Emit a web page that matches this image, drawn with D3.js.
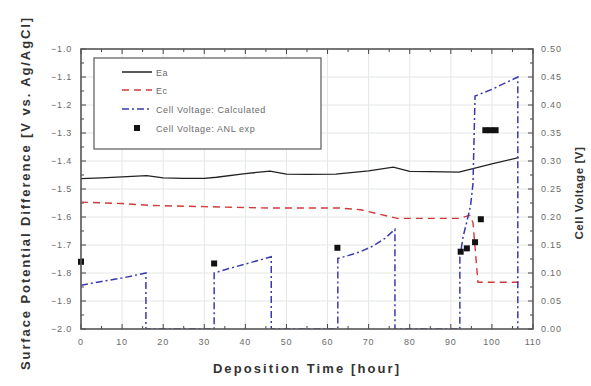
<!DOCTYPE html>
<html>
<head>
<meta charset="utf-8">
<script src="https://cdn.jsdelivr.net/npm/d3@7"></script>
<style>
  body { margin: 0; background: #fff; }
  svg { display: block; font-family: "Liberation Sans", Arial, sans-serif; }
</style>
</head>
<body>
<svg id="chart" width="591" height="386"></svg>
<script>
// Ea (black, left axis)
const eaHours = [0, 5, 10, 16, 20, 25, 30, 33, 40, 46, 50, 55, 62, 70, 76, 80, 85, 92, 100, 106.5];
const eaValues = [-1.463, -1.46, -1.457, -1.452, -1.46, -1.462, -1.462, -1.458, -1.445, -1.436, -1.447, -1.448, -1.447, -1.435, -1.422, -1.437, -1.438, -1.44, -1.41, -1.388];

// Ec (red dashed, left axis)
const ecHours = [0, 10, 17.5, 30, 46, 63, 68, 72, 77, 85, 92, 94.6, 95.4, 96.6, 106.5];
const ecValues = [-1.547, -1.552, -1.559, -1.563, -1.568, -1.568, -1.574, -1.588, -1.605, -1.605, -1.605, -1.594, -1.62, -1.833, -1.833];

// Cell voltage, calculated (blue dash-dot, right axis)
const calcHours = [0, 5, 10, 15.8, 15.8, 32.4, 32.4, 36, 40, 46.3, 46.3, 62.5, 62.5, 65, 68, 71, 74, 76.4, 76.4, 92.2, 92.2, 93, 94, 94.8, 95.4, 95.9, 100, 106.3, 106.3];
const calcValues = [0.078, 0.085, 0.091, 0.100, 0, 0, 0.100, 0.108, 0.116, 0.129, 0, 0, 0.126, 0.131, 0.138, 0.148, 0.162, 0.178, 0, 0, 0.128, 0.165, 0.195, 0.22, 0.26, 0.416, 0.428, 0.450, 0];

// Cell voltage, ANL experiment (squares, right axis)
const expHours = [0, 32.4, 62.4, 92.4, 93.9, 95.9, 97.3, 98.4, 99.6, 100.9];
const expValues = [0.120, 0.117, 0.145, 0.138, 0.144, 0.155, 0.196, 0.355, 0.355, 0.355];

const legendLabels = ["Ea", "Ec", "Cell Voltage: Calculated", "Cell Voltage: ANL exp"];

const svg = d3.select("#chart");
const plot = { left: 81, right: 533, top: 49, bottom: 329 };

const x = d3.scaleLinear().domain([0, 110]).range([plot.left, plot.right]);
const yL = d3.scaleLinear().domain([-2.0, -1.0]).range([plot.bottom, plot.top]);
const yR = d3.scaleLinear().domain([0, 0.5]).range([plot.bottom, plot.top]);

const tickColor = "#444";
const labelColor = "#6a6a6a";

// grid
const grid = svg.append("g").attr("stroke", "#e4e8e4").attr("stroke-width", 1);
grid.selectAll(".gx").data(d3.range(10, 110, 10)).join("line")
  .attr("x1", d => x(d)).attr("x2", d => x(d))
  .attr("y1", plot.top).attr("y2", plot.bottom);
grid.selectAll(".gy").data(d3.range(-1.9, -1.0, 0.1)).join("line")
  .attr("x1", plot.left).attr("x2", plot.right)
  .attr("y1", d => yL(d)).attr("y2", d => yL(d));

// ticks, all pointing inward
const ticks = svg.append("g").attr("stroke", tickColor).attr("stroke-width", 1);
d3.range(0, 111, 5).forEach(v => {
  const len = v % 10 === 0 ? 5 : 3;
  ticks.append("line").attr("x1", x(v)).attr("x2", x(v)).attr("y1", plot.bottom).attr("y2", plot.bottom - len);
  ticks.append("line").attr("x1", x(v)).attr("x2", x(v)).attr("y1", plot.top).attr("y2", plot.top + len);
});
d3.range(0, 21).forEach(i => {
  const v = -2.0 + i * 0.05;
  const len = i % 2 === 0 ? 5 : 3;
  ticks.append("line").attr("x1", plot.left).attr("x2", plot.left + len).attr("y1", yL(v)).attr("y2", yL(v));
});
d3.range(0, 21).forEach(i => {
  const v = i * 0.025;
  const len = i % 2 === 0 ? 5 : 3;
  ticks.append("line").attr("x1", plot.right).attr("x2", plot.right - len).attr("y1", yR(v)).attr("y2", yR(v));
});

// tick labels
const tl = svg.append("g").attr("fill", labelColor).attr("font-size", 9).attr("letter-spacing", 0.8);
tl.selectAll(".xl").data(d3.range(0, 111, 10)).join("text")
  .attr("x", d => x(d)).attr("y", plot.bottom + 16)
  .attr("text-anchor", "middle").text(d => d);
tl.selectAll(".yl").data(d3.range(0, 11)).join("text")
  .attr("x", plot.left - 9).attr("y", i => yL(-2.0 + i * 0.1) + 3)
  .attr("text-anchor", "end").text(i => d3.format(".1f")(-2.0 + i * 0.1));
tl.selectAll(".yr").data(d3.range(0, 11)).join("text")
  .attr("x", plot.right + 8).attr("y", i => yR(i * 0.05) + 3)
  .attr("text-anchor", "start").text(i => d3.format(".2f")(i * 0.05));

// axis titles
const titles = svg.append("g").attr("fill", "#333").attr("font-weight", "bold");
titles.append("text").attr("x", 307).attr("y", 373).attr("text-anchor", "middle")
  .attr("font-size", 13).attr("letter-spacing", 2.1).text("Deposition Time [hour]");
titles.append("text").attr("transform", "translate(30,193) rotate(-90)").attr("text-anchor", "middle")
  .attr("font-size", 13).attr("letter-spacing", 1.9).text("Surface Potential Difference [V vs. Ag/AgCl]");
titles.append("text").attr("transform", "translate(583,193) rotate(-90)").attr("text-anchor", "middle")
  .attr("font-size", 11.5).attr("letter-spacing", 0.6).text("Cell Voltage [V]");

// series
const clip = svg.append("clipPath").attr("id", "clip").append("rect")
  .attr("x", plot.left).attr("y", plot.top - 2)
  .attr("width", plot.right - plot.left).attr("height", plot.bottom - plot.top + 2);
const series = svg.append("g").attr("clip-path", "url(#clip)");

const lineL = d3.line().x(d => x(d[0])).y(d => yL(d[1]));
const lineR = d3.line().x(d => x(d[0])).y(d => yR(d[1]));

series.append("path").datum(d3.zip(ecHours, ecValues)).attr("d", lineL)
  .attr("fill", "none").attr("stroke", "#d03a3a").attr("stroke-width", 1.4).attr("stroke-dasharray", "7,5");
series.append("path").datum(d3.zip(eaHours, eaValues)).attr("d", lineL)
  .attr("fill", "none").attr("stroke", "#222").attr("stroke-width", 1.3);
series.append("path").datum(d3.zip(calcHours, calcValues)).attr("d", lineR)
  .attr("fill", "none").attr("stroke", "#3a3ab0").attr("stroke-width", 1.5).attr("stroke-dasharray", "7,3,2,3");
svg.append("g").selectAll("rect").data(d3.zip(expHours, expValues)).join("rect")
  .attr("x", d => x(d[0]) - 3).attr("y", d => yR(d[1]) - 3)
  .attr("width", 6).attr("height", 6).attr("fill", "#111");

// frame
svg.append("rect").attr("x", plot.left).attr("y", plot.top)
  .attr("width", plot.right - plot.left).attr("height", plot.bottom - plot.top)
  .attr("fill", "none").attr("stroke", "#555").attr("stroke-width", 1.6);

// legend
const lg = svg.append("g");
lg.append("rect").attr("x", 94).attr("y", 58).attr("width", 227).attr("height", 91)
  .attr("fill", "#fff").attr("stroke", "#666").attr("stroke-width", 1.3);
const rowY = [72, 90, 109, 128];
const styles = [
  { stroke: "#222", dash: null },
  { stroke: "#d03a3a", dash: "7,5" },
  { stroke: "#3a3ab0", dash: "7,3,2,3" },
  null
];
legendLabels.forEach((label, i) => {
  const s = styles[i];
  if (s) {
    lg.append("line").attr("x1", 122).attr("x2", 152).attr("y1", rowY[i]).attr("y2", rowY[i])
      .attr("stroke", s.stroke).attr("stroke-width", 1.5).attr("stroke-dasharray", s.dash);
  } else {
    lg.append("rect").attr("x", 134).attr("y", rowY[i] - 3).attr("width", 6).attr("height", 6).attr("fill", "#111");
  }
  lg.append("text").attr("x", 156).attr("y", rowY[i] + 3.5)
    .attr("font-size", 9).attr("fill", labelColor).attr("letter-spacing", 0.6).text(label);
});
</script>
</body>
</html>
